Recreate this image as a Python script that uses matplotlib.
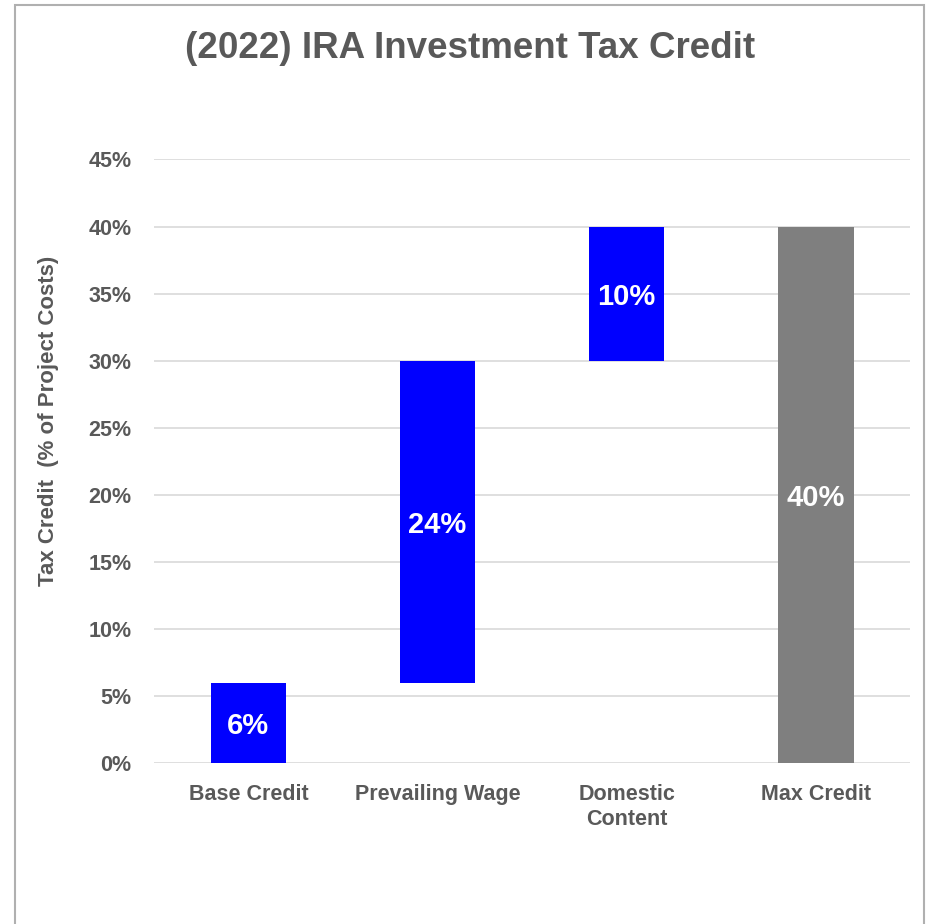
import matplotlib.pyplot as plt
from matplotlib.patches import Rectangle
from matplotlib.ticker import FuncFormatter

categories = ['Base Credit', 'Prevailing Wage', 'Domestic\nContent', 'Max Credit']
bottoms = [0, 6, 30, 0]
heights = [6, 24, 10, 40]
labels = ['6%', '24%', '10%', '40%']
colors = ['#0000FF', '#0000FF', '#0000FF', '#7F7F7F']
yticks = [0, 5, 10, 15, 20, 25, 30, 35, 40, 45]

text_color = '#595959'

fig = plt.figure(figsize=(9.27, 9.24), dpi=100)
ax = fig.add_axes([0.166, 0.1742, 0.816, 0.6532])

x = range(len(categories))
bars = ax.bar(x, heights, bottom=bottoms, width=0.4, color=colors, zorder=3)

for i, b in enumerate(bars):
    ax.text(b.get_x() + b.get_width() / 2, bottoms[i] + heights[i] / 2, labels[i],
            ha='center', va='center_baseline', color='white', fontsize=21,
            fontweight='bold', family='Liberation Sans', zorder=4)

ax.set_xlim(-0.5, 3.5)
ax.set_ylim(0, 45)
ax.set_yticks(yticks)
ax.yaxis.set_major_formatter(FuncFormatter(lambda v, p: f'{v:.0f}%'))
ax.set_xticks(list(x))
ax.set_xticklabels(categories, linespacing=1.25)
ax.grid(axis='y', color='#D9D9D9', linewidth=1.2, zorder=0)
ax.tick_params(axis='both', length=0, colors=text_color)
ax.tick_params(axis='y', pad=16)
ax.tick_params(axis='x', pad=15)
for lab in ax.get_yticklabels():
    lab.set_fontsize(15.5)
    lab.set_fontweight('bold')
    lab.set_family('Liberation Sans')
for lab in ax.get_xticklabels():
    lab.set_fontsize(15.5)
    lab.set_fontweight('bold')
    lab.set_family('Liberation Sans')
for s in ax.spines.values():
    s.set_visible(False)

fig.text(0.052, 0.545, 'Tax Credit  (% of Project Costs)', rotation=90,
         ha='center', va='center', fontsize=16, fontweight='bold',
         color=text_color, family='Liberation Sans')
fig.text(0.507, 0.947, '(2022) IRA Investment Tax Credit', ha='center', va='center',
         fontsize=26.5, fontweight='bold', color=text_color, family='Liberation Sans')

fig.patches.append(Rectangle((0.0162, -0.05), 0.9806, 1.0446, transform=fig.transFigure,
                             fill=False, edgecolor='#B0B0B0', linewidth=1.5))

fig.savefig('out.png', dpi=100, facecolor='white')
